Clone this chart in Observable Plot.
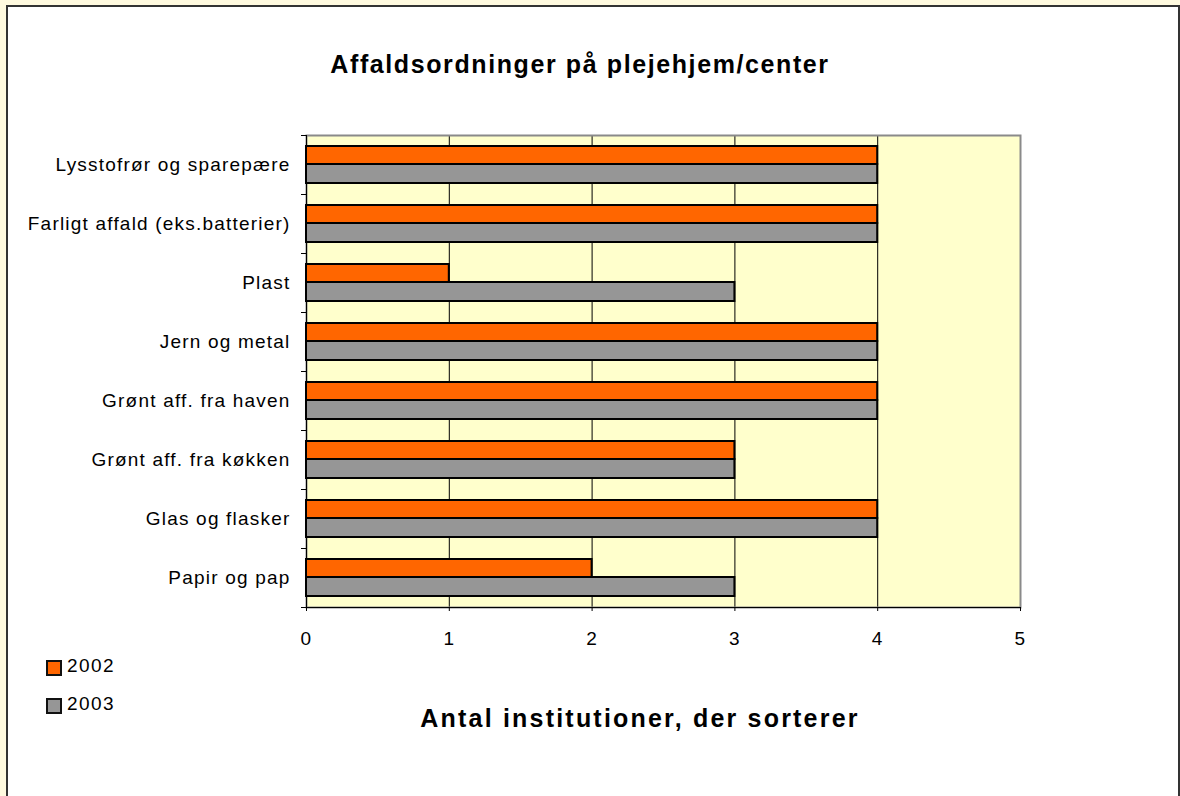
<!DOCTYPE html>
<html>
<head>
<meta charset="utf-8">
<script src="https://cdn.jsdelivr.net/npm/d3@7"></script>
<script src="https://cdn.jsdelivr.net/npm/@observablehq/plot@0.6"></script>
<style>
  html, body { margin: 0; padding: 0; }
  body { width: 1180px; height: 796px; overflow: hidden; background: #FFFADF; position: relative; font-family: "Liberation Sans", Arial, sans-serif; }
  #box { position: absolute; left: 6px; top: 5px; width: 1174px; height: 900px; box-sizing: border-box; background: #fff; border: 2px solid #333; }
  #chart { position: absolute; left: 0; top: 0; }
  .title { position: absolute; font-weight: bold; white-space: nowrap; color: #000; transform: translateX(-50%); }
  #title { left: 580px; top: 50px; font-size: 25px; letter-spacing: 1.6px; }
  #xtitle { left: 640px; top: 704px; font-size: 25px; letter-spacing: 2.2px; }
  #legend { position: absolute; left: 46px; top: 654px; font-size: 19px; letter-spacing: 1.4px; }
  .item { position: relative; height: 38px; }
  .sw { position: absolute; left: 0px; top: 6px; width: 12px; height: 12px; border: 2px solid #111; }
  .lab { position: absolute; left: 21px; top: 0px; line-height: 24px; }
</style>
</head>
<body>
<div id="box"></div>
<div id="chart"></div>
<div id="title" class="title">Affaldsordninger på plejehjem/center</div>
<div id="xtitle" class="title">Antal institutioner, der sorterer</div>
<div id="legend"></div>
<script>
const categories = ["Lysstofrør og sparepære", "Farligt affald (eks.batterier)", "Plast", "Jern og metal", "Grønt aff. fra haven", "Grønt aff. fra køkken", "Glas og flasker", "Papir og pap"];
const values2002 = [4, 4, 1, 4, 4, 3, 4, 2];
const values2003 = [4, 4, 3, 4, 4, 3, 4, 3];
const years = ["2002", "2003"];
const colors = ["#FF6600", "#969696"];
const xTicks = [0, 1, 2, 3, 4, 5];

const rows2002 = categories.map((c, i) => ({category: c, value: values2002[i]}));
const rows2003 = categories.map((c, i) => ({category: c, value: values2003[i]}));

const band = 59;
const chart = Plot.plot({
  width: 1180,
  height: 796,
  marginLeft: 306,
  marginRight: 160,
  marginTop: 135,
  marginBottom: 189,
  style: {fontFamily: '"Liberation Sans", Arial, sans-serif', fontSize: "19px", letterSpacing: "1.2px", background: "transparent", color: "#000", overflow: "visible"},
  x: {domain: [0, 5], axis: null, label: null},
  y: {domain: categories, padding: 0, axis: null, label: null},
  marks: [
    Plot.frame({fill: "#FFFFCC", stroke: null}),
    Plot.ruleX(xTicks.slice(1, 5), {stroke: "#000", strokeWidth: 1}),
    Plot.frame({stroke: "#8a8a8a", strokeWidth: 2}),
    Plot.barX(rows2002, {y: "category", x: "value", fill: colors[0], stroke: "#000", strokeWidth: 2, insetTop: 11, insetBottom: 30}),
    Plot.barX(rows2003, {y: "category", x: "value", fill: colors[1], stroke: "#000", strokeWidth: 2, insetTop: 29, insetBottom: 11}),
    Plot.ruleX([0], {stroke: "#000", strokeWidth: 1}),
    Plot.ruleY([categories[categories.length - 1]], {stroke: "#000", strokeWidth: 1, dy: band / 2}),
    Plot.axisY({tickSize: 5, tickFormat: () => "", dy: -band / 2, stroke: "#000", label: null}),
    Plot.axisY([categories[categories.length - 1]], {tickSize: 5, tickFormat: () => "", dy: band / 2, stroke: "#000", label: null}),
    Plot.axisY({tickSize: 0, tickPadding: 16, fontSize: 19, label: null}),
    Plot.axisX({ticks: xTicks, tickSize: 4, tickPadding: 20, fontSize: 19, tickFormat: d => String(d), label: null})
  ]
});
document.getElementById("chart").appendChild(chart);

const legend = document.getElementById("legend");
years.forEach((y, i) => {
  const item = document.createElement("div");
  item.className = "item";
  const sw = document.createElement("div");
  sw.className = "sw";
  sw.style.background = colors[i];
  const lab = document.createElement("div");
  lab.className = "lab";
  lab.textContent = y;
  item.appendChild(sw);
  item.appendChild(lab);
  legend.appendChild(item);
});
</script>
</body>
</html>
